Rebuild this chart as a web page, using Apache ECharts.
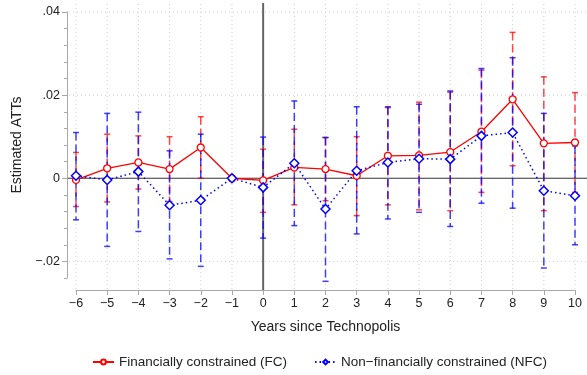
<!DOCTYPE html>
<html>
<head>
<meta charset="utf-8">
<script src="https://cdn.jsdelivr.net/npm/echarts@6/dist/echarts.min.js"></script>
<style>
  html, body { margin: 0; padding: 0; background: #fff; }
  #chart { width: 587px; height: 375px; }
</style>
</head>
<body>
<div id="chart"></div>
<script>
// Event-study estimates by year relative to Technopolis
const years = [-6, -5, -4, -3, -2, -1, 0, 1, 2, 3, 4, 5, 6, 7, 8, 9, 10];

// Financially constrained firms (FC)
const fcEst  = [-0.0004, 0.0024, 0.0038, 0.0022, 0.0074, 0, -0.0005, 0.0026, 0.0022, 0.0006, 0.0054, 0.0055, 0.0063, 0.0112, 0.0190, 0.0084, 0.0086];
const fcLow  = [-0.0068, -0.0057, -0.0026, -0.0056, 0.0000, null, -0.0082, -0.0064, -0.0054, -0.0090, -0.0064, -0.0076, -0.0078, -0.0034, 0.0030, -0.0078, -0.0034];
const fcHigh = [0.0062, 0.0106, 0.0102, 0.0100, 0.0148, null, 0.0070, 0.0118, 0.0098, 0.0100, 0.0170, 0.0183, 0.0207, 0.0260, 0.0351, 0.0244, 0.0206];

// Non-financially constrained firms (NFC)
const nfcEst  = [0.0006, -0.0004, 0.0016, -0.0065, -0.0053, 0, -0.0022, 0.0036, -0.0074, 0.0018, 0.0038, 0.0047, 0.0046, 0.0102, 0.0110, -0.0030, -0.0042];
const nfcLow  = [-0.0100, -0.0164, -0.0128, -0.0194, -0.0212, null, -0.0144, -0.0114, -0.0248, -0.0134, -0.0098, -0.0082, -0.0116, -0.0060, -0.0072, -0.0216, -0.0160];
const nfcHigh = [0.0110, 0.0156, 0.0159, 0.0066, 0.0106, null, 0.0099, 0.0186, 0.0098, 0.0172, 0.0172, 0.0178, 0.0210, 0.0264, 0.0290, 0.0156, 0.0078];

// Axis ticks
const yMajorTicks = [-0.02, 0, 0.02, 0.04];
const yGridLines = [-0.02, 0.02, 0.04];
const xGridLines = years.filter(v => v !== 0);

const FONT = '"Liberation Sans", Arial, sans-serif';
const RED = '#ff0000';
const BLUE = '#0000ff';
const AXIS_GREY = '#a8a8a8';

function fmtY(v) {
  const r = Math.round(v * 1000) / 1000;
  if (Math.abs(r / 0.02 - Math.round(r / 0.02)) > 1e-6) return '';
  if (r === 0) return '0';
  const s = Math.abs(r).toFixed(2).replace(/^0/, '');
  return (r < 0 ? '\u2212' : '') + s;
}

function fmtX(v) {
  return v < 0 ? '\u2212' + Math.abs(v) : String(v);
}

// Plot region extends a little beyond the data area (axes drawn offset)
const PAD = { left: 9, right: 11, top: 10, bottom: 12 };

function gridRender(params, api) {
  const cs = params.coordSys;
  const x0 = cs.x - PAD.left + 2, x1 = cs.x + cs.width + PAD.right;
  const y0 = cs.y - PAD.top, y1 = cs.y + cs.height + PAD.bottom;
  const children = [];
  const dotted = { stroke: '#cfcfcf', lineWidth: 1, lineDash: [1, 3] };
  yGridLines.forEach(v => {
    const p = api.coord([0, v]);
    children.push({ type: 'line', shape: { x1: x0, y1: p[1], x2: x1, y2: p[1] }, style: dotted });
  });
  xGridLines.forEach(v => {
    const p = api.coord([v, 0]);
    children.push({ type: 'line', shape: { x1: p[0], y1: y0 + 2, x2: p[0], y2: y1 }, style: dotted });
  });
  // Reference lines at zero
  const z = api.coord([0, 0]);
  children.push({ type: 'line', shape: { x1: cs.x - PAD.left, y1: z[1], x2: x1 + 2, y2: z[1] }, style: { stroke: '#333', lineWidth: 1.2 } });
  children.push({ type: 'line', shape: { x1: z[0], y1: y0 + 1, x2: z[0], y2: y1 }, style: { stroke: '#666', lineWidth: 2 } });
  return { type: 'group', children };
}

function errorBarRender(color, dash) {
  return function (params, api) {
    const lo = api.value(1), hi = api.value(2);
    if (lo == null || hi == null || isNaN(lo) || isNaN(hi)) return null;
    const x = api.value(0);
    const pLo = api.coord([x, lo]);
    const pHi = api.coord([x, hi]);
    const cap = 3;
    const st = { stroke: color, lineWidth: 1.5 };
    return {
      type: 'group',
      children: [
        { type: 'line', shape: { x1: pHi[0], y1: pHi[1], x2: pLo[0], y2: pLo[1] }, style: Object.assign({ lineDash: dash }, st) },
        { type: 'line', shape: { x1: pHi[0] - cap, y1: pHi[1], x2: pHi[0] + cap, y2: pHi[1] }, style: st },
        { type: 'line', shape: { x1: pLo[0] - cap, y1: pLo[1], x2: pLo[0] + cap, y2: pLo[1] }, style: st }
      ]
    };
  };
}

const chart = echarts.init(document.getElementById('chart'), null, { renderer: 'canvas' });

chart.setOption({
  animation: false,
  backgroundColor: '#fff',
  textStyle: { fontFamily: FONT },
  grid: { left: 76, right: 12, top: 12, bottom: 97, containLabel: false },
  legend: {
    bottom: 1,
    left: 87,
    itemWidth: 21,
    itemHeight: 6,
    itemGap: 27,
    textStyle: { fontFamily: FONT, fontSize: 13.5, color: '#222' },
    data: ['Financially constrained (FC)', 'Non\u2212financially constrained (NFC)']
  },
  xAxis: {
    type: 'value',
    min: -6, max: 10, interval: 1,
    offset: 12,
    name: 'Years since Technopolis',
    nameLocation: 'middle',
    nameGap: 30,
    nameTextStyle: { fontFamily: FONT, fontSize: 14, color: '#222' },
    axisLine: { show: true, onZero: false, lineStyle: { color: AXIS_GREY, width: 1 } },
    axisTick: { show: true, length: 5, lineStyle: { color: AXIS_GREY } },
    axisLabel: { formatter: fmtX, fontFamily: FONT, fontSize: 12.5, color: '#222', margin: 7 },
    splitLine: { show: false }
  },
  yAxis: [
    {
      type: 'value',
      min: -0.024, max: 0.04, interval: 0.004,
      offset: 9,
      position: 'left',
      name: 'Estimated ATTs',
      nameLocation: 'middle',
      nameGap: 40,
      nameTextStyle: { fontFamily: FONT, fontSize: 14, color: '#222' },
      axisLine: { show: true, onZero: false, lineStyle: { color: AXIS_GREY, width: 1 } },
      axisTick: { show: true, length: 3, lineStyle: { color: AXIS_GREY } },
      axisLabel: { formatter: fmtY, fontFamily: FONT, fontSize: 12.5, color: '#222', margin: 7 },
      splitLine: { show: false }
    },
    {
      type: 'value',
      min: -0.024, max: 0.04,
      offset: 9,
      position: 'left',
      axisLine: { show: false, onZero: false },
      axisTick: { show: true, length: 5, customValues: yMajorTicks, lineStyle: { color: AXIS_GREY } },
      axisLabel: { show: false },
      splitLine: { show: false }
    }
  ],
  series: [
    {
      type: 'custom',
      name: 'grid',
      silent: true,
      z: 0,
      renderItem: gridRender,
      data: [[0, 0]],
      encode: { x: 0, y: 1 }
    },
    {
      type: 'custom',
      name: 'fcCI',
      silent: true,
      z: 2,
      renderItem: errorBarRender('rgba(255,0,0,0.72)', [8, 4]),
      data: years.map((y, i) => [y, fcLow[i], fcHigh[i]]),
      encode: { x: 0, y: [1, 2] }
    },
    {
      type: 'custom',
      name: 'nfcCI',
      silent: true,
      z: 3,
      renderItem: errorBarRender('rgba(0,0,255,0.75)', [8, 4]),
      data: years.map((y, i) => [y, nfcLow[i], nfcHigh[i]]),
      encode: { x: 0, y: [1, 2] }
    },
    {
      type: 'line',
      name: 'Financially constrained (FC)',
      z: 4,
      data: years.map((y, i) => [y, fcEst[i]]),
      symbol: 'circle',
      symbolSize: 7,
      showAllSymbol: true,
      lineStyle: { color: RED, width: 1.3, type: 'solid' },
      itemStyle: { color: '#fff', borderColor: RED, borderWidth: 1.3 },
      emphasis: { disabled: true }
    },
    {
      type: 'line',
      name: 'Non\u2212financially constrained (NFC)',
      z: 5,
      data: years.map((y, i) => [y, nfcEst[i]]),
      symbol: 'diamond',
      symbolSize: 9,
      showAllSymbol: true,
      lineStyle: { color: BLUE, width: 1.5, type: [1.5, 3] },
      itemStyle: { color: '#fff', borderColor: BLUE, borderWidth: 1.5 },
      emphasis: { disabled: true }
    }
  ]
});
</script>
</body>
</html>
